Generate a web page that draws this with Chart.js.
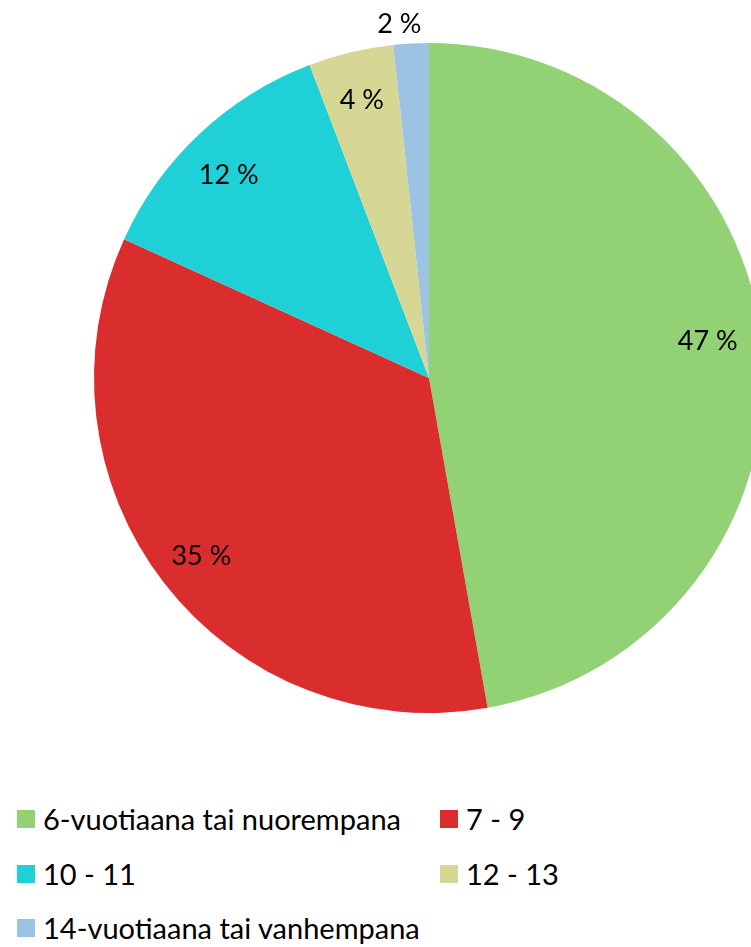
<!DOCTYPE html>
<html>
<head>
<meta charset="utf-8">
<script src="https://cdn.jsdelivr.net/npm/chart.js@4"></script>
<style>
  html, body { margin: 0; padding: 0; background: #fff; overflow: hidden; width: 751px; height: 947px; }
  #wrap { position: absolute; left: 0; top: 0; width: 858px; height: 760px; }
  #legend { position: absolute; left: 0; top: 800px; width: 751px; font-family: Lato, 'Open Sans', sans-serif; font-size: 29px; color: #000; }
  .item { position: absolute; display: flex; align-items: center; white-space: nowrap; }
  .box { width: 18px; height: 18px; margin-right: 8px; }
</style>
</head>
<body>
<div id="wrap"><canvas id="pieChart" width="858" height="760"></canvas></div>
<div id="legend"></div>
<script>
  // Data
  const categories = ['6-vuotiaana tai nuorempana', '7 - 9', '10 - 11', '12 - 13', '14-vuotiaana tai vanhempana'];
  const values = [47.2, 34.6, 12.4, 4.1, 1.7];
  const labels = ['47 %', '35 %', '12 %', '4 %', '2 %'];
  const colors = ['#92d174', '#d92d2e', '#1fd1d7', '#d7d795', '#9dc3e3'];

  // draw percent labels inside slices (smallest one outside)
  const pctLabels = {
    id: 'pctLabels',
    afterDatasetsDraw(chart) {
      const ctx = chart.ctx;
      const meta = chart.getDatasetMeta(0);
      ctx.save();
      ctx.font = '27px Lato, "Open Sans", sans-serif';
      ctx.fillStyle = '#000';
      ctx.textAlign = 'center';
      ctx.textBaseline = 'middle';
      meta.data.forEach((arc, i) => {
        const p = arc.getProps(['x', 'y', 'startAngle', 'endAngle', 'outerRadius']);
        let mid = (p.startAngle + p.endAngle) / 2;
        let r = p.outerRadius * 0.86;
        if (i === 0) { mid -= 0.05; r = p.outerRadius * 0.84; }
        if (i === 2) { r = p.outerRadius * 0.855; mid -= 0.02; }
        if (i === 4) { mid -= 0.03; r = p.outerRadius * 1.065; }
        ctx.fillText(labels[i], p.x + Math.cos(mid) * r, p.y + Math.sin(mid) * r + 2);
      });
      ctx.restore();
    }
  };

  new Chart(document.getElementById('pieChart'), {
    type: 'pie',
    data: {
      labels: categories,
      datasets: [{
        data: values,
        backgroundColor: colors,
        borderWidth: 0
      }]
    },
    options: {
      responsive: false,
      animation: false,
      layout: { padding: { top: 43, bottom: 47, left: 0, right: 0 } },
      plugins: {
        legend: { display: false },
        tooltip: { enabled: false }
      }
    },
    plugins: [pctLabels]
  });

  // HTML legend, two columns
  const legend = document.getElementById('legend');
  const pos = [[17, 21], [440, 21], [17, 76], [440, 76], [17, 130]];
  categories.forEach((c, i) => {
    const el = document.createElement('div');
    el.className = 'item';
    el.style.left = pos[i][0] + 'px';
    el.style.top = (pos[i][1] - 20) + 'px';
    el.innerHTML = '<span class="box" style="background:' + colors[i] + '"></span><span>' + c + '</span>';
    legend.appendChild(el);
  });
</script>
</body>
</html>
